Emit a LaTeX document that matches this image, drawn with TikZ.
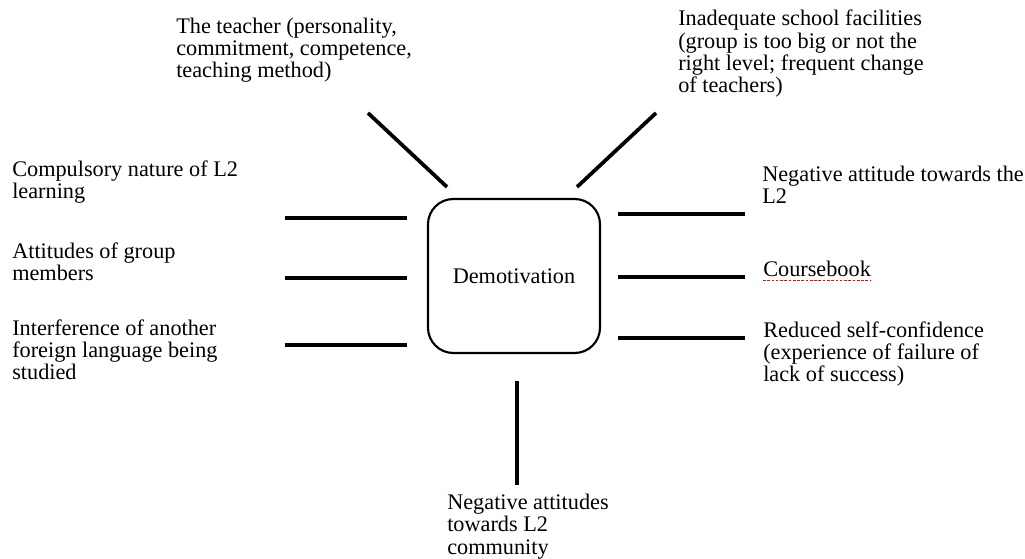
\documentclass[tikz,border=0pt]{standalone}
\usepackage{fontspec}
\setmainfont{Liberation Serif}
\begin{document}
\begin{tikzpicture}[x=0.75pt,y=-0.75pt,
  lbl/.style={anchor=base west, inner sep=0pt, align=left, font=\fontsize{16.7}{16.8}\selectfont},
  bar/.style={line width=2.8pt},
  core/.style={draw, line width=1.6pt, rounded corners=19pt, minimum width=129pt, minimum height=115.5pt, inner sep=0pt, font=\fontsize{16.7}{16.8}\selectfont}]
\useasboundingbox (0,0) rectangle (1025,559);
\fill[white] (0,0) rectangle (1025,559);
% centre
\node[core] (dm) at (514,276) {Demotivation};
% labels (anchored at the baseline of their last line)
\node[lbl] (t1) at (176,78) {The teacher (personality,\\commitment, competence,\\teaching method)};
\node[lbl] (t2) at (678,93) {Inadequate school facilities\\(group is too big or not the\\right level; frequent change\\of teachers)};
\node[lbl] (t3) at (12,199) {Compulsory nature of L2\\learning};
\node[lbl] (t4) at (12,281) {Attitudes of group\\members};
\node[lbl] (t5) at (12,380) {Interference of another\\foreign language being\\studied};
\node[lbl] (t6) at (762,204) {Negative attitude towards the\\L2};
\node[lbl] (t7) at (763,277) {Coursebook};
\node[lbl] (t8) at (763,382) {Reduced self-confidence\\(experience of failure of\\lack of success)};
\node[lbl] (t9) at (447,554) {Negative attitudes\\towards L2\\community};
% spell-check underline
\draw[red, line width=1pt, dash pattern=on 2pt off 1.2pt] ([yshift=-2.6pt]t7.base west) -- ([yshift=-2.6pt]t7.base east);
% bar end points
\coordinate (d1a) at (368,113); \coordinate (d1b) at (447,187);
\coordinate (d2a) at (656,113); \coordinate (d2b) at (577,187);
\coordinate (l1a) at (285,218); \coordinate (l1b) at (407,218);
\coordinate (l2a) at (285,278); \coordinate (l2b) at (407,278);
\coordinate (l3a) at (285,345); \coordinate (l3b) at (407,345);
\coordinate (r1a) at (618,214); \coordinate (r1b) at (745,214);
\coordinate (r2a) at (618,277); \coordinate (r2b) at (745,277);
\coordinate (r3a) at (618,338); \coordinate (r3b) at (745,338);
\coordinate (b1a) at (517,381); \coordinate (b1b) at (517,485);
\draw[bar] (d1a) -- (d1b);
\draw[bar] (d2a) -- (d2b);
\draw[bar] (l1a) -- (l1b);
\draw[bar] (l2a) -- (l2b);
\draw[bar] (l3a) -- (l3b);
\draw[bar] (r1a) -- (r1b);
\draw[bar] (r2a) -- (r2b);
\draw[bar] (r3a) -- (r3b);
\draw[bar] (b1a) -- (b1b);
\end{tikzpicture}
\end{document}
